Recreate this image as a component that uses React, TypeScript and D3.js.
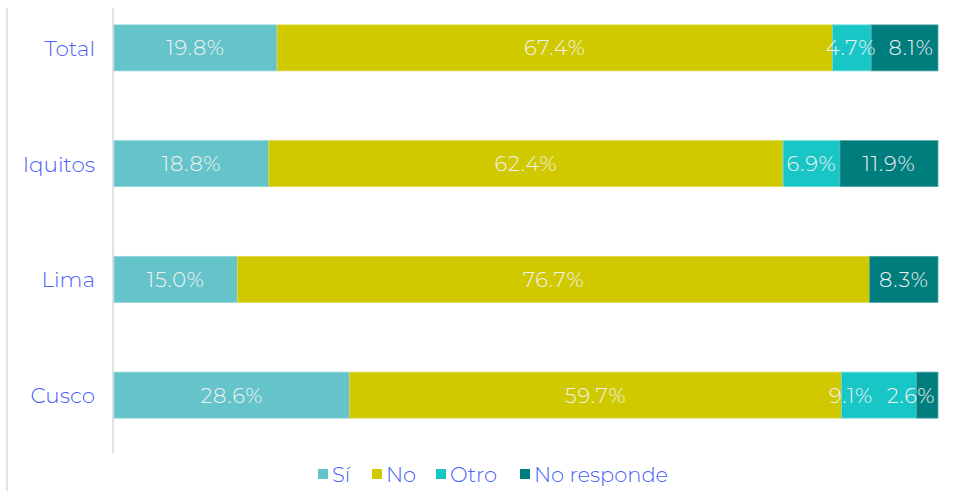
import React from "react";
import * as d3 from "d3";

const categories = ["Total", "Iquitos", "Lima", "Cusco"];
const seriesNames = ["Sí", "No", "Otro", "No responde"];
const si = [19.8, 18.8, 15.0, 28.6];
const no = [67.4, 62.4, 76.7, 59.7];
const otro = [4.7, 6.9, 0, 9.1];
const noResponde = [8.1, 11.9, 8.3, 2.6];
const colors = ["#65C3CA", "#D0C900", "#19C6C6", "#007D7D"];
const strokes = ["#8fd6db", "#e0da4d", "#6fdcdc", "#4aa5a5"];

const W = 964;
const H = 491;
const FONT = "Montserrat, Lato, 'Open Sans', sans-serif";
const BLUE = "#4A60F8";

export default function App() {
  const series = [si, no, otro, noResponde];
  const x = d3.scaleLinear().domain([0, 100]).range([114, 938]);
  const y = d3
    .scaleBand<string>()
    .domain(categories)
    .range([-10, 453])
    .paddingInner(0.6026)
    .paddingOuter(0.3013);

  const rows = categories.map((c, ci) => {
    const vals = series.map((s) => s[ci]);
    const stack: { x0: number; x1: number; v: number; k: number }[] = [];
    let acc = 0;
    vals.forEach((v, k) => {
      stack.push({ x0: acc, x1: acc + v, v, k });
      acc += v;
    });
    return { c, stack };
  });

  const fs = 21;
  const charW = (t: string) => t.length * 10.5;

  return (
    <svg
      width={W}
      height={H}
      style={{ position: "absolute", left: 0, top: 0, display: "block", background: "#fff" }}
    >
      <line x1={7} x2={7} y1={8} y2={H} stroke="#d9d9d9" strokeWidth={1.5} />
      <line x1={113} x2={113} y1={8} y2={453} stroke="#d9d9d9" strokeWidth={1.5} />
      {rows.map((r) => {
        const by = y(r.c)!;
        const bh = y.bandwidth();
        const labels = r.stack
          .filter((s) => s.v > 0)
          .map((s) => {
            const t = s.v.toFixed(1) + "%";
            return { t, cx: (x(s.x0) + x(s.x1)) / 2, w: charW(t) };
          });
        const gap = 18;
        for (let i = 1; i < labels.length; i++) {
          const prev = labels[i - 1];
          const cur = labels[i];
          const minC = prev.cx + prev.w / 2 + gap + cur.w / 2;
          if (cur.cx < minC) cur.cx = minC;
        }
        const last = labels[labels.length - 1];
        const maxC = x(100) - 6 - last.w / 2;
        if (last.cx > maxC) last.cx = maxC;
        for (let i = labels.length - 2; i >= 0; i--) {
          const nx = labels[i + 1];
          const cur = labels[i];
          const maxCC = nx.cx - nx.w / 2 - gap - cur.w / 2;
          if (cur.cx > maxCC) cur.cx = maxCC;
        }
        return (
          <g key={r.c}>
            <text
              x={95}
              y={by + bh / 2}
              textAnchor="end"
              dominantBaseline="central"
              fill={BLUE}
              fontSize={21.5}
              fontFamily={FONT}
              fontWeight={300}
            >
              {r.c}
            </text>
            {r.stack
              .filter((s) => s.v > 0)
              .map((s) => (
                <rect
                  key={s.k}
                  x={x(s.x0)}
                  y={by}
                  width={x(s.x1) - x(s.x0)}
                  height={bh}
                  fill={colors[s.k]}
                  stroke={strokes[s.k]}
                  strokeWidth={0.8}
                />
              ))}
            {labels.map((l, i) => (
              <text
                key={i}
                x={l.cx}
                y={by + bh / 2}
                textAnchor="middle"
                dominantBaseline="central"
                fill="#f2f2f2"
                fontSize={fs}
                fontFamily={FONT}
                fontWeight={300}
                letterSpacing={0.8}
              >
                {l.t}
              </text>
            ))}
          </g>
        );
      })}
      {(() => {
        const xs = [318, 372, 436, 520];
        return seriesNames.map((n, i) => (
          <g key={n}>
            <rect x={xs[i]} y={469} width={10} height={10} fill={colors[i]} />
            <text
              x={xs[i] + 14}
              y={482}
              fill={BLUE}
              fontSize={21}
              fontFamily={FONT}
              fontWeight={300}
            >
              {n}
            </text>
          </g>
        ));
      })()}
    </svg>
  );
}
